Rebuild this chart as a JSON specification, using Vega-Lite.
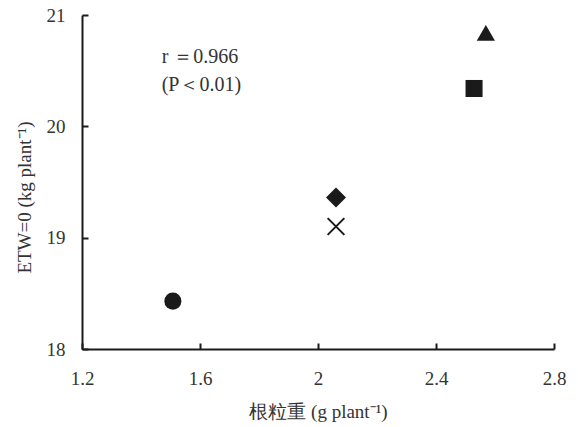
{
  "$schema": "https://vega.github.io/schema/vega-lite/v6.json",
  "width": 472,
  "height": 334,
  "autosize": "none",
  "padding": {"left": 82, "top": 15, "right": 24, "bottom": 78},
  "background": "white",
  "config": {
    "view": {"stroke": null},
    "font": "Liberation Serif",
    "axis": {
      "domainColor": "#1a1a1a",
      "domainWidth": 2,
      "grid": false,
      "labelFont": "Liberation Serif",
      "labelFontSize": 19,
      "labelColor": "#333333",
      "titleFont": "Liberation Serif",
      "titleFontSize": 18,
      "titleFontWeight": "normal",
      "titleColor": "#333333"
    }
  },
  "datasets": {
    "pts": [
      {"treatment": "A", "weight": 1.508, "et": 18.43},
      {"treatment": "B", "weight": 2.061, "et": 19.36},
      {"treatment": "C", "weight": 2.061, "et": 19.1},
      {"treatment": "D", "weight": 2.529, "et": 20.34},
      {"treatment": "E", "weight": 2.569, "et": 20.84}
    ],
    "notes": [
      {"label": "r ＝0.966", "weight": 1.47, "et": 20.62},
      {"label": "(P＜0.01)", "weight": 1.47, "et": 20.37}
    ]
  },
  "layer": [
    {
      "data": {"name": "pts"},
      "transform": [{"filter": "datum.treatment != 'C'"}],
      "mark": {"type": "point", "filled": true, "opacity": 1, "color": "#1a1a1a"},
      "encoding": {
        "x": {
          "field": "weight", "type": "quantitative",
          "scale": {"domain": [1.2, 2.8], "zero": false, "nice": false},
          "axis": {"values": [1.2, 1.6, 2, 2.4, 2.8], "format": "~g", "labelFlush": false, "title": "根粒重 (g plant⁻¹)", "titleFontSize": 19, "ticks": true, "tickSize": -6, "tickWidth": 2, "tickColor": "#1a1a1a", "labelPadding": 26, "titlePadding": 14}
        },
        "y": {
          "field": "et", "type": "quantitative",
          "scale": {"domain": [18, 21], "zero": false, "nice": false},
          "axis": {"values": [18, 19, 20, 21], "format": "~g", "labelFlush": false, "title": "ETW=0 (kg plant⁻¹)", "titleFontSize": 19, "titleX": -58, "titleY": 182, "titleBaseline": "middle", "titleAlign": "center", "ticks": true, "tickSize": -6, "tickWidth": 2, "tickColor": "#1a1a1a", "labelPadding": 23}
        },
        "shape": {
          "field": "treatment", "type": "nominal",
          "scale": {"domain": ["A", "B", "D", "E"], "range": ["circle", "diamond", "square", "triangle-up"]},
          "legend": null
        },
        "size": {
          "field": "treatment", "type": "nominal",
          "scale": {"type": "ordinal", "domain": ["A", "B", "D", "E"], "range": [290, 400, 290, 330]},
          "legend": null
        }
      }
    },
    {
      "data": {"name": "pts"},
      "transform": [{"filter": "datum.treatment == 'C'"}],
      "mark": {"type": "point", "filled": false, "opacity": 1, "color": "#1a1a1a", "strokeWidth": 2, "size": 280, "shape": "M-1,-1L1,1M-1,1L1,-1"},
      "encoding": {
        "x": {"field": "weight", "type": "quantitative"},
        "y": {"field": "et", "type": "quantitative"}
      }
    },
    {
      "data": {"name": "notes"},
      "mark": {"type": "text", "align": "left", "baseline": "middle", "font": "Liberation Serif", "fontSize": 20, "color": "#333333"},
      "encoding": {
        "x": {"field": "weight", "type": "quantitative"},
        "y": {"field": "et", "type": "quantitative"},
        "text": {"field": "label"}
      }
    }
  ]
}
